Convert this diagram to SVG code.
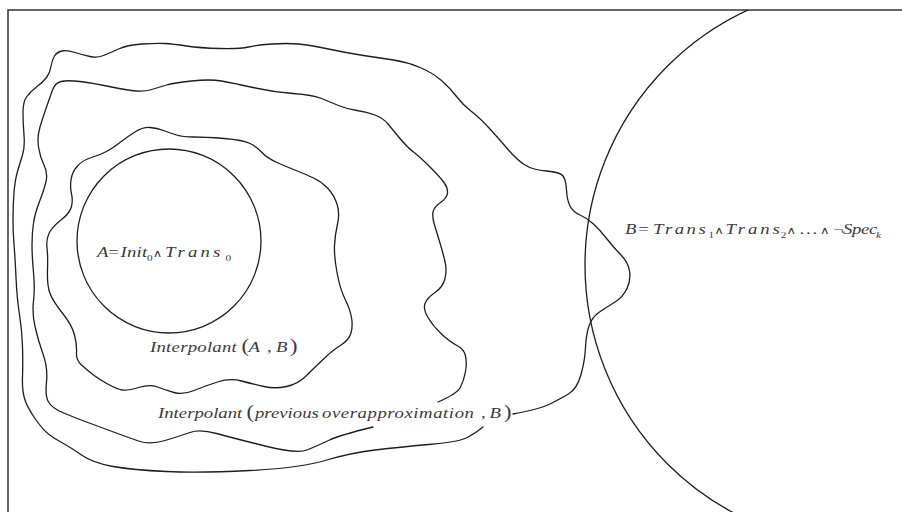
<svg xmlns="http://www.w3.org/2000/svg" width="902" height="512" viewBox="0 0 902 512">
<style>
.ln{fill:none;stroke:#1e1e1e;stroke-width:1.3;stroke-linecap:round;stroke-linejoin:round}
.frame{fill:none;stroke:#333;stroke-width:1.5}
text{font-family:"Liberation Serif","Times New Roman",serif;font-size:15px;fill:#3a3a3a}
.i{font-style:italic}
.sub{font-size:9px}
.op{font-family:"DejaVu Sans","Liberation Sans",sans-serif;font-size:10.5px}
.par{font-size:18px}
</style>
<defs>
<clipPath id="inFrame"><rect x="0" y="10" width="902" height="502"/></clipPath>
</defs>
<rect width="902" height="512" fill="#fff"/>
<path id="frame" class="frame" d="M8,512 V10 H902"/>
<g id="setB" clip-path="url(#inFrame)">
<circle class="ln" cx="866" cy="265" r="281"/>
</g>
<g id="setA">
<circle class="ln" cx="169" cy="241" r="92"/>
</g>
<g id="interpolantAB">
<path class="ln" d="M71,180 Q72,172 77.5,166 Q83,160 91.5,157.5 Q100,155 106.5,151.5 Q113,148 120,142.5 Q127,137 135,132 Q143,127 150,127.5 Q157,128 163.5,130.5 Q170,133 176.5,135 Q183,137 194,137 Q205,137 224,138.5 Q243,140 250,143.5 Q257,147 262,152.5 Q267,158 277,162.5 Q287,167 296,170.5 Q305,174 313.5,178 Q322,182 328,188.5 Q334,195 337,204 Q340,213 337.5,224 Q335,235 334.5,245.5 Q334,256 337,272.5 Q340,289 345,299 Q350,309 351.5,317.5 Q353,326 351,333 Q349,340 341,345 Q333,350 323,359.5 Q313,369 305.5,376.5 Q298,384 286.5,386.5 Q275,389 264,386.5 Q253,384 241.5,381 Q230,378 217.5,382 Q205,386 194,390.5 Q183,395 174,392.5 Q165,390 157.5,387 Q150,384 138.5,387.5 Q127,391 122,390 Q117,389 108.5,384.5 Q100,380 93.5,375 Q87,370 81.5,365 Q76,360 76.5,352.5 Q77,345 74.5,335 Q72,325 62,312.5 Q52,300 49.5,292 Q47,284 47.5,270 Q48,256 47,248 Q46,240 49,233.5 Q52,227 61,220 Q70,213 71.5,206.5 Q73,200 71.5,194 Q70,188 71,180 Z"/>
</g>
<g id="interpolantPrev">
<path class="ln" d="M438,402 Q457,394 460.5,387 Q464,380 465.5,371.5 Q467,363 465.5,356 Q464,349 457,345.5 Q450,342 441.5,334 Q433,326 428,317.5 Q423,309 425,303.5 Q427,298 435,292.5 Q443,287 445,278.5 Q447,270 445,261.5 Q443,253 440,243 Q437,233 434.5,225 Q432,217 433,212 Q434,207 440.5,202.5 Q447,198 447.5,193 Q448,188 444,182.5 Q440,177 430,167 Q420,157 413.5,152 Q407,147 400,138.5 Q393,130 388,124 Q383,118 375,115 Q367,112 357,110.5 Q347,109 338.5,105.5 Q330,102 321.5,98.5 Q313,95 293,93.5 Q273,92 253,87.5 Q233,83 221.5,81 Q210,79 191.5,81 Q173,83 166.5,85 Q160,87 150,90 Q140,93 116.5,88 Q93,83 80,81.5 Q67,80 61,81.5 Q55,83 52.5,90 Q50,97 46.5,107 Q43,117 40,127 Q37,137 38.5,147 Q40,157 44,165 Q48,173 46,181.5 Q44,190 39.5,201.5 Q35,213 33.5,223 Q32,233 32,244.5 Q32,256 33.5,272.5 Q35,289 33.5,301 Q32,313 35,326.5 Q38,340 43,354 Q48,368 46.5,382 Q45,396 48.5,402 Q52,408 62.5,412.5 Q73,417 86.5,422 Q100,427 113.5,432 Q127,437 138.5,441 Q150,445 165,440.5 Q180,436 190,432.5 Q200,429 216.5,433.5 Q233,438 265,446 Q297,454 307,450 Q317,446 328.5,440.5 Q340,435 373,427"/>
</g>
<g id="outerRegion">
<path class="ln" d="M513,414 Q540,409 550,404 Q560,399 568.5,394 Q577,389 581,374.5 Q585,360 585.5,347.5 Q586,335 589,326 Q592,317 599.5,312 Q607,307 615,302 Q623,297 627,288.5 Q631,280 629.5,271 Q628,262 621,255 Q614,248 607,239 Q600,230 593.5,224 Q587,218 580,215 Q573,212 570,206 Q567,200 566.5,190 Q566,180 563,176 Q560,172 546.5,171 Q533,170 525,165 Q517,160 508.5,150 Q500,140 490,129 Q480,118 471.5,111.5 Q463,105 456.5,96.5 Q450,88 441.5,80.5 Q433,73 420,67.5 Q407,62 393.5,60 Q380,58 363.5,55.5 Q347,53 328.5,49 Q310,45 298.5,44 Q287,43 272,44 Q257,45 248.5,47 Q240,49 220,48.5 Q200,48 186.5,46 Q173,44 165,43.5 Q157,43 142,44 Q127,45 118.5,49 Q110,53 103.5,55.5 Q97,58 90,56.5 Q83,55 75,52.5 Q67,50 62,51 Q57,52 54.5,56 Q52,60 51,66.5 Q50,73 46.5,77.5 Q43,82 36.5,87 Q30,92 26.5,97 Q23,102 23,112.5 Q23,123 24,135 Q25,147 22.5,155 Q20,163 17.5,171.5 Q15,180 14,192.5 Q13,205 13,219 Q13,233 14,244.5 Q15,256 16,277.5 Q17,299 19.5,314.5 Q22,330 22.5,346.5 Q23,363 22.5,376.5 Q22,390 24.5,398.5 Q27,407 35,418.5 Q43,430 49,434.5 Q55,439 62.5,443 Q70,447 81.5,455 Q93,463 113,466.5 Q133,470 166.5,471.5 Q200,473 250,470.5 Q300,468 325,460.5 Q350,453 375,450 Q400,447 428.5,444.5 Q457,442 465,438.5 Q473,435 483,427"/>
</g>
<g id="labels">
<text id="labelA" transform="translate(97,257) scale(1.25,1)" y="0"><tspan class="i" x="0">A</tspan><tspan x="9">=</tspan><tspan class="i" x="18.8" letter-spacing="0.2">Init</tspan><tspan class="sub" x="40" y="4">0</tspan><tspan class="op" x="44.6" y="0">∧</tspan><tspan class="i" x="54.4" letter-spacing="2.5">Trans</tspan><tspan class="sub" x="102.8" y="4">0</tspan></text>
<text id="labelB" transform="translate(625,234) scale(1.25,1)" y="0"><tspan class="i" x="0">B</tspan><tspan x="10.6">=</tspan><tspan class="i" x="22.4" letter-spacing="2">Trans</tspan><tspan class="sub" x="66.8" y="4">1</tspan><tspan class="op" x="71.4" y="0">∧</tspan><tspan class="i" x="80.4" letter-spacing="2.3">Trans</tspan><tspan class="sub" x="124.6" y="4">2</tspan><tspan class="op" x="129.2" y="0">∧</tspan><tspan x="139.6" letter-spacing="1.5">...</tspan><tspan class="op" x="156" y="0">∧</tspan><tspan x="166.4">¬</tspan><tspan class="i" x="174.4" letter-spacing="-0.3">Spec</tspan><tspan class="sub i" x="200.8" y="4">k</tspan></text>
<text id="labelIAB" transform="translate(150,352) scale(1.25,1)" y="0"><tspan class="i" x="0" letter-spacing="0.2">Interpolant</tspan><tspan class="par" x="73.2">(</tspan><tspan class="i" x="78.8">A</tspan><tspan x="93.6">,</tspan><tspan class="i" x="100.8">B</tspan><tspan class="par" x="112">)</tspan></text>
<text id="labelIPrev" transform="translate(158,418) scale(1.25,1)" y="0"><tspan class="i" x="0">Interpolant</tspan><tspan class="par" x="70.8">(</tspan><tspan class="i" x="77.6">previous</tspan><tspan class="i" x="131.2" letter-spacing="0.45">overapproximation</tspan><tspan x="258.4">,</tspan><tspan class="i" x="265.2">B</tspan><tspan class="par" x="276.8">)</tspan></text>
</g>
</svg>
